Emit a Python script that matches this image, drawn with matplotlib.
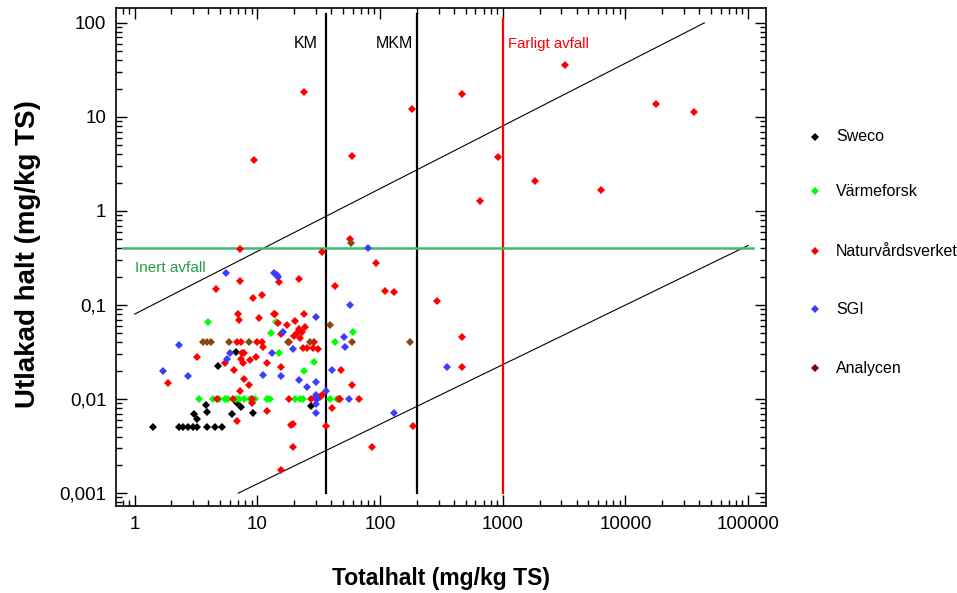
import matplotlib
matplotlib.use("Agg")
import matplotlib.pyplot as plt
from matplotlib.lines import Line2D
from matplotlib.ticker import LogLocator, NullFormatter, FixedLocator, FixedFormatter

plt.rcParams['font.family'] = ['Liberation Sans', 'DejaVu Sans']

# ---------------- data ----------------
sweco_x = [1.42, 2.31, 2.49, 2.73, 2.99, 3.2, 3.9, 4.5, 5.2, 3.05, 3.2, 3.83, 3.9,
           6.2, 6.8, 7.4, 9.2, 27.4, 4.8, 6.7]
sweco_y = [0.005, 0.005, 0.005, 0.005, 0.005, 0.005, 0.005, 0.005, 0.005, 0.0069, 0.0061,
           0.0086, 0.0073, 0.0069, 0.009, 0.0082, 0.0071, 0.0084, 0.0224, 0.032]

varme_x = [3.35, 4.37, 4.9, 5.5, 5.8, 6.7, 7.1, 7.8, 8.7, 9.6, 11.9, 12.7, 20.3, 22.3,
           23.8, 39, 45, 3.98, 14.2, 12.9, 15, 29, 24, 43, 60]
varme_y = [0.01, 0.01, 0.01, 0.01, 0.01, 0.01, 0.01, 0.01, 0.01, 0.01, 0.01, 0.01, 0.01,
           0.01, 0.01, 0.01, 0.01, 0.066, 0.066, 0.051, 0.031, 0.025, 0.02, 0.04, 0.052]

nv_x = [24, 9.4, 59, 183, 467, 3230, 17800, 36200, 916, 1840, 6330, 655,
        57, 34, 93, 7.25, 43, 110, 130, 292, 467, 467, 48, 59, 47, 67, 41, 186, 86,
        15.6, 1.87, 6.5, 7.8, 8.5, 4.7, 6.3, 9.0, 18, 27.4, 29.5, 32.4, 33.9, 46,
        6.8, 11.9, 36.4, 18.9, 19.6, 19.6, 7.0, 7.1, 10.3, 14, 14.8, 17.5, 20.3, 24,
        6.8, 7.4, 10, 10.9, 11.2, 29, 23.7, 25.5, 28.6, 31, 18.2, 15.6, 22, 23, 21,
        20, 24.5, 22.5, 3.2, 5.5, 7.5, 7.8, 7.4, 7.7, 8.7, 9.8, 12, 15.6, 7.25, 9.1,
        15.1, 7.25, 21.9, 4.6, 9.2, 10.9, 13.7]
nv_y = [18.4, 3.5, 3.85, 12.2, 17.6, 35.8, 13.7, 11.3, 3.75, 2.08, 1.67, 1.28,
        0.50, 0.37, 0.28, 0.39, 0.159, 0.141, 0.137, 0.110, 0.046, 0.0219, 0.0204,
        0.0141, 0.01, 0.01, 0.008, 0.0052, 0.0031, 0.00176, 0.0148, 0.0204, 0.0163,
        0.0141, 0.01, 0.01, 0.01, 0.01, 0.01, 0.0103, 0.0106, 0.011, 0.01, 0.0058,
        0.0074, 0.0052, 0.0053, 0.0055, 0.0031, 0.080, 0.069, 0.073, 0.080, 0.065,
        0.061, 0.068, 0.080, 0.040, 0.040, 0.040, 0.040, 0.036, 0.040, 0.035, 0.035,
        0.035, 0.034, 0.040, 0.0487, 0.056, 0.052, 0.050, 0.047, 0.058, 0.045, 0.028,
        0.024, 0.031, 0.031, 0.027, 0.024, 0.026, 0.028, 0.024, 0.022, 0.0122, 0.009,
        0.176, 0.18, 0.19, 0.148, 0.12, 0.128, 0.080]

sgi_x = [1.7, 2.31, 2.73, 5.6, 13.7, 14.5, 14.8, 5.7, 6.0, 11.1, 15.6, 16.2, 13.2, 19.6,
         21.9, 25.5, 30, 30, 30, 30, 30, 30.7, 36.4, 41, 51, 52, 57, 56, 80, 130, 352]
sgi_y = [0.02, 0.0375, 0.0176, 0.22, 0.22, 0.21, 0.20, 0.027, 0.031, 0.018, 0.0176, 0.052,
         0.031, 0.034, 0.0159, 0.0134, 0.0151, 0.011, 0.0089, 0.0071, 0.075, 0.01, 0.0122,
         0.0204, 0.046, 0.036, 0.10, 0.01, 0.40, 0.0071, 0.0219]

analy_x = [3.6, 3.9, 4.2, 5.9, 8.6, 17.8, 27, 39, 58, 59, 176]
analy_y = [0.04, 0.04, 0.04, 0.04, 0.04, 0.04, 0.04, 0.061, 0.46, 0.04, 0.04]

series_names = ["Sweco", "Värmeforsk", "Naturvårdsverket", "SGI", "Analycen"]
series_colors = ["#000000", "#00ff00", "#ff0000", "#3c3cff", "#8b4513"]
legend_colors = ["#000000", "#00ff00", "#ff0000", "#3c3cff", "#800000"]

# reference lines
upper_line_x = [1, 44000]
upper_line_y = [0.08, 100]
lower_line_x = [7, 100000]
lower_line_y = [0.001, 0.43]
km_x, mkm_x, farligt_x = 36.5, 200, 1000
inert_y = 0.4

x_ticks = [1, 10, 100, 1000, 10000, 100000]
x_ticklabels = ["1", "10", "100", "1000", "10000", "100000"]
y_ticks = [0.001, 0.01, 0.1, 1, 10, 100]
y_ticklabels = ["0,001", "0,01", "0,1", "1", "10", "100"]

# ---------------- figure ----------------
W, H = 957, 593
fig = plt.figure(figsize=(W / 100, H / 100), dpi=100)
ax = fig.add_axes([116 / W, 1 - 506 / H, (766 - 116) / W, (506 - 8) / H])
ax.set_xscale('log')
ax.set_yscale('log')
ax.set_xlim(0.706, 140000)
ax.set_ylim(0.00073, 144)

# reference lines
ax.plot(upper_line_x, upper_line_y, color='black', lw=0.8, zorder=2)
ax.plot(lower_line_x, lower_line_y, color='black', lw=0.8, zorder=2)
ax.plot([km_x, km_x], [0.001, 125], color='black', lw=1.6, zorder=2)
ax.plot([mkm_x, mkm_x], [0.001, 125], color='black', lw=1.6, zorder=2)
ax.plot([farligt_x, farligt_x], [0.001, 110], color='#ff0000', lw=1.6, zorder=2)
ax.plot([0.8, 110000], [inert_y, inert_y], color='#3cbc6e', lw=1.8, zorder=2)

ax.text(25.0, 60, "KM", fontsize=11.5, ha='center', va='center')
ax.text(132, 60, "MKM", fontsize=11.5, ha='center', va='center')
ax.text(1100, 60, "Farligt avfall", fontsize=10.8, color='#ff0000', ha='left', va='center')
ax.text(1.0, 0.245, "Inert avfall", fontsize=11, color='#22a040', ha='left', va='center')

data = [(sweco_x, sweco_y), (varme_x, varme_y), (nv_x, nv_y), (sgi_x, sgi_y), (analy_x, analy_y)]
for (xs, ys), c in zip(data, series_colors):
    ax.plot(xs, ys, linestyle='none', marker='D', ms=3.8, mew=0, color=c, zorder=3)

# ticks
ax.xaxis.set_major_locator(FixedLocator(x_ticks))
ax.xaxis.set_major_formatter(FixedFormatter(x_ticklabels))
ax.yaxis.set_major_locator(FixedLocator(y_ticks))
ax.yaxis.set_major_formatter(FixedFormatter(y_ticklabels))
ax.xaxis.set_minor_locator(LogLocator(base=10, subs=range(2, 10), numticks=20))
ax.yaxis.set_minor_locator(LogLocator(base=10, subs=range(2, 10), numticks=20))
ax.xaxis.set_minor_formatter(NullFormatter())
ax.yaxis.set_minor_formatter(NullFormatter())
ax.tick_params(which='both', direction='in', top=True, right=True, width=1.0, color='black')
ax.tick_params(which='major', length=8, labelsize=13.5, pad=7)
ax.tick_params(which='minor', length=4)
for s in ax.spines.values():
    s.set_linewidth(1.2)

# axis labels
fig.text(441 / W, 1 - 578 / H, "Totalhalt (mg/kg TS)", fontsize=16.5, fontweight='bold',
         ha='center', va='center')
fig.text(28 / W, 1 - 254 / H, "Utlakad halt (mg/kg TS)", fontsize=20, fontweight='bold',
         ha='center', va='center', rotation=90)

# legend (manual)
leg_y = [137, 191, 251, 309, 368]
for name, c, yy in zip(series_names, legend_colors, leg_y):
    fig.add_artist(Line2D([815 / W], [1 - yy / H], marker='D', ms=3.8, mew=0, color=c,
                          linestyle='none', transform=fig.transFigure))
    fig.text(836 / W, 1 - yy / H, name, fontsize=11.5, ha='left', va='center')

fig.savefig("out.png", dpi=100)
